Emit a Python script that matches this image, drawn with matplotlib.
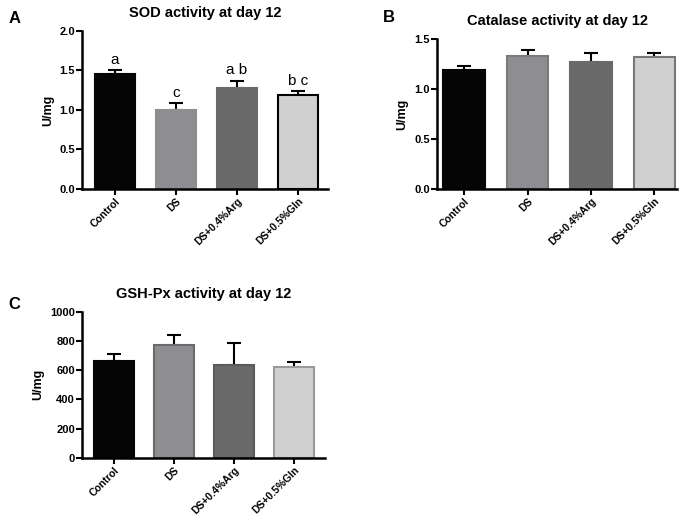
import matplotlib.pyplot as plt
import numpy as np

plt.rcParams['font.family'] = ['Liberation Sans', 'DejaVu Sans']

groups = ["Control", "DS", "DS+0.4%Arg", "DS+0.5%Gln"]
bar_colors = ["#050505", "#8e8e92", "#6a6a6a", "#d0d0d0"]

sod_mean = [1.46, 1.00, 1.28, 1.19]
sod_err = [0.04, 0.09, 0.09, 0.05]
sod_letters = ["a", "c", "a b", "b c"]

cat_mean = [1.19, 1.33, 1.27, 1.32]
cat_err = [0.04, 0.06, 0.09, 0.04]

gsh_mean = [665, 772, 636, 622]
gsh_err = [48, 69, 148, 36]

fig = plt.figure(figsize=(6.89, 5.22), dpi=100)


def panel(rect, means, errs, edges, title, letter, letter_xy, ylim, yticks, fmt, xlim):
    ax = fig.add_axes(rect)
    x = np.arange(len(groups))
    ax.bar(x, means, width=0.66, color=bar_colors, edgecolor=edges, linewidth=1.5, zorder=2)
    ax.errorbar(x, means, yerr=[np.zeros(len(errs)), errs], fmt="none",
                ecolor="black", elinewidth=1.5, capsize=5, capthick=1.5, zorder=1)
    ax.set_xlim(*xlim)
    ax.set_ylim(*ylim)
    ax.set_yticks(yticks)
    ax.set_yticklabels([fmt.format(t) for t in yticks], fontsize=8, fontweight="bold")
    ax.set_xticks(x)
    ax.set_xticklabels(groups, rotation=45, ha="right", rotation_mode="anchor",
                       fontsize=7.5, fontweight="bold")
    for s in ["top", "right"]:
        ax.spines[s].set_visible(False)
    for s in ["left", "bottom"]:
        ax.spines[s].set_linewidth(1.8)
    ax.tick_params(width=1.5, length=4, pad=1)
    ax.set_ylabel("U/mg", fontsize=9, fontweight="bold", labelpad=4)
    ax.set_title(title, fontsize=10.5, fontweight="bold", pad=10)
    fig.text(letter_xy[0], letter_xy[1], letter, fontsize=12, fontweight="bold",
             ha="left", va="center")
    return ax


axA = panel([0.119, 0.638, 0.357, 0.303], sod_mean, sod_err,
            ["#050505", "#8e8e92", "#6a6a6a", "#000000"],
            "SOD activity at day 12", "A", (0.012, 0.965),
            (0, 2.0), [0, 0.5, 1.0, 1.5, 2.0], "{:.1f}", (-0.54, 3.49))
for i, lab in enumerate(sod_letters):
    axA.text(i, sod_mean[i] + sod_err[i] + 0.04, lab, ha="center", va="bottom", fontsize=11)

panel([0.634, 0.638, 0.349, 0.287], cat_mean, cat_err,
      ["#050505", "#7a7a7a", "#6a6a6a", "#777777"],
      "Catalase activity at day 12", "B", (0.555, 0.967),
      (0, 1.5), [0, 0.5, 1.0, 1.5], "{:.1f}", (-0.43, 3.36))

panel([0.119, 0.1226, 0.353, 0.2806], gsh_mean, gsh_err,
      ["#050505", "#6a6a6a", "#5a5a5a", "#9a9a9a"],
      "GSH-Px activity at day 12", "C", (0.012, 0.416),
      (0, 1000), [0, 200, 400, 600, 800, 1000], "{:.0f}", (-0.53, 3.52))

fig.savefig("out.png", dpi=100)
